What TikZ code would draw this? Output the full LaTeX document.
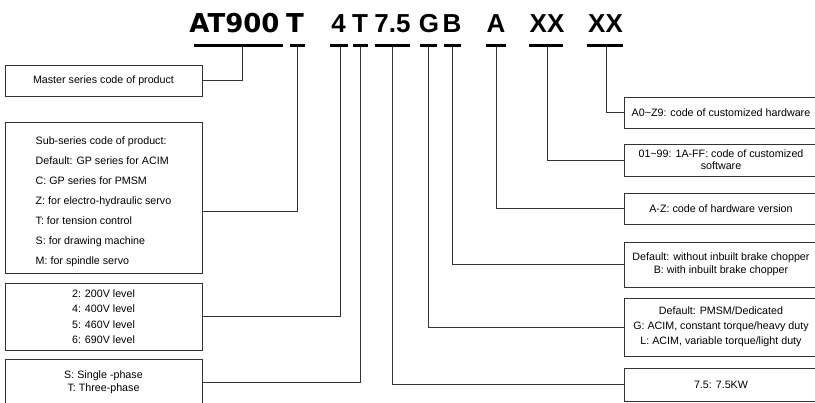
\documentclass[tikz,border=0pt]{standalone}
\usepackage{fontspec}
\setmainfont{Liberation Sans}
\newfontfamily\headfont{DejaVu Sans}
\usepackage{tikz}

\begin{document}
\begin{tikzpicture}[x=1pt,y=-1pt,
    box/.style={draw=black!80,line width=0.9pt,minimum height=31pt,inner sep=0pt,
      align=center,font=\fontsize{10.7}{13}\selectfont},
    lbox/.style={box,minimum width=197pt},
    rbox/.style={box,minimum width=194pt},
    bar/.style={line width=3pt},
    link/.style={draw=black!80,line width=0.9pt},
    code/.style={anchor=base,inner sep=0pt,font=\bfseries\fontsize{26}{26}\selectfont},
    bcode/.style={code,font=\headfont\bfseries\fontsize{26}{26}\selectfont}]
        \clip (0,0) rectangle (815,403);
        % model code
        \node[bcode] (cser) at (234.5,33) {AT900};
        \node[bcode] (csub) at (295,33) {T};
        \node[code] (cvol) at (338.5,33) {4};
        \node[code] (cph) at (360,33) {T};
        \node[code] (cpw) at (392.5,33) {7.5};
        \node[code] (cmt) at (429,33) {G};
        \node[code] (cbr) at (452,33) {B};
        \node[code] (chv) at (496,33) {A};
        \node[code] (csw) at (547,33) {XX};
        \node[code] (chw) at (605.5,33) {XX};
        \foreach \a/\b/\s/\n in {194/283/242/bser,290/305/297/bsub,330/348/340/bvol,
            353/368/360/bph,375/410/392/bpw,420/437/428/bmt,444/461/452/bbr,
            486/506/496/bhv,529/563/547/bsw,587/623/606/bhw} {
            \draw[bar] (\a,46) -- (\b,46);
            \coordinate (\n) at (\s,47);
          }
        % left boxes
        \node[lbox] (master) at (103.5,80.5) {Master series code of product};
        \node[lbox,minimum height=151pt,align=left,font=\fontsize{10.7}{20}\selectfont] (sub) at (103.5,197.5)
          {\rule{0pt}{16pt}Sub-series code of product:\\Default: GP series for ACIM\\C: GP series for PMSM\\
           Z: for electro-hydraulic servo\\T: for tension control\\S: for drawing machine\\M: for spindle servo};
        \node[lbox,minimum height=67pt,font=\fontsize{10.7}{15.5}\selectfont] (volt) at (103.5,316.5)
          {2: 200V level\\4: 400V level\\5: 460V level\\6: 690V level};
        \node[lbox,minimum height=47pt] (phase) at (103.5,382.5) {S: Single -phase\\T: Three-phase};
        % right boxes
        \node[rbox] (hwc) at (721,112.5) {A0\textasciitilde Z9: code of customized hardware};
        \node[rbox,minimum height=32pt,font=\fontsize{10.7}{12}\selectfont] (sw) at (721,160)
          {01\textasciitilde 99: 1A-FF: code of customized\\software};
        \node[rbox] (hwv) at (721,208.5) {A-Z: code of hardware version};
        \node[rbox,minimum height=45pt] (brake) at (721,264.5)
          {Default: without inbuilt brake chopper\\B: with inbuilt brake chopper};
        \node[rbox,minimum height=58pt,font=\fontsize{10.7}{15}\selectfont] (motor) at (721,327)
          {Default: PMSM/Dedicated\\G: ACIM, constant torque/heavy duty\\L: ACIM, variable torque/light duty};
        \node[rbox,minimum height=33pt] (power) at (721,384.5) {7.5: 7.5KW};
        % connectors
        \draw[link] (bser) |- (master.east);
        \draw[link] (bsub) |- ([yshift=-13.5pt]sub.east);
        \draw[link] (bvol) |- (volt.east);
        \draw[link] (bph) |- (phase.east);
        \draw[link] (bpw) |- (power.west);
        \draw[link] (bmt) |- (motor.west);
        \draw[link] (bbr) |- (brake.west);
        \draw[link] (bhv) |- (hwv.west);
        \draw[link] (bsw) |- (sw.west);
        \draw[link] (bhw) |- (hwc.west);
      \end{tikzpicture}
\end{document}
